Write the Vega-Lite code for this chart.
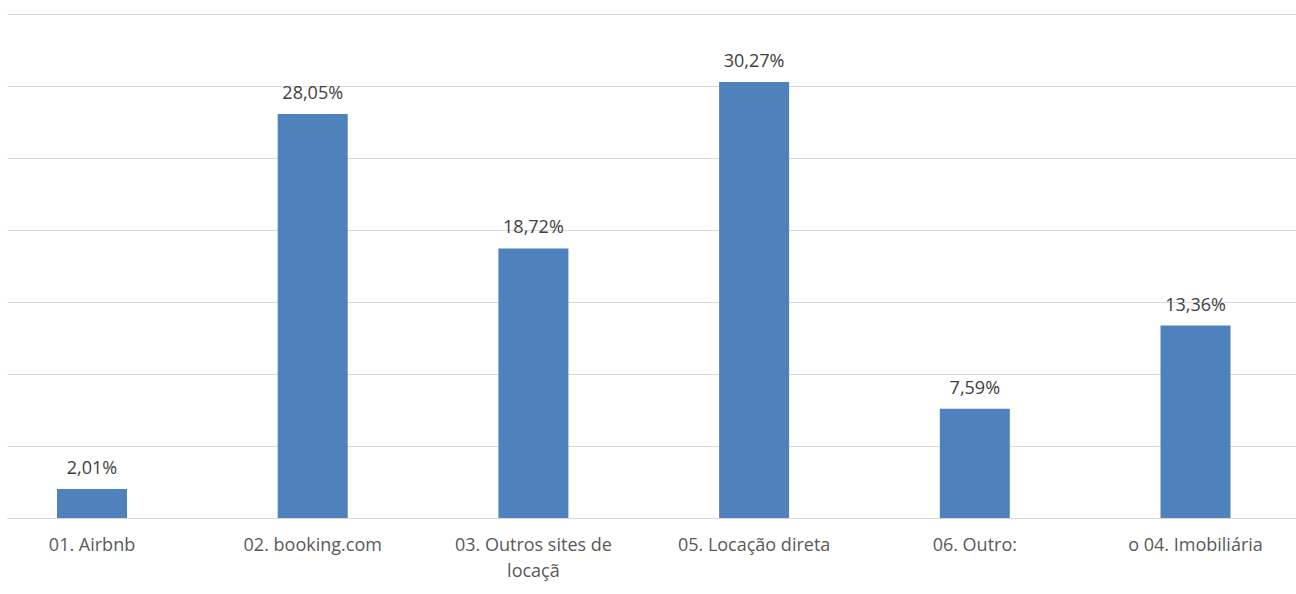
{
  "$schema": "https://vega.github.io/schema/vega-lite/v6.json",
  "width": 1289,
  "height": 504,
  "padding": {"left": 7, "top": 14, "right": 0, "bottom": 76},
  "autosize": {"type": "none"},
  "background": "white",
  "config": {
    "view": {"stroke": null},
    "font": "Open Sans",
    "locale": {"number": {"decimal": ",", "thousands": ".", "grouping": [3], "currency": ["", ""]}}
  },
  "data": {
    "values": [
      {"canal": "01. Airbnb", "pct": 0.0201},
      {"canal": "02. booking.com", "pct": 0.2805},
      {"canal": "03. Outros sites de locaçã", "pct": 0.1872},
      {"canal": "05. Locação direta", "pct": 0.3027},
      {"canal": "06. Outro:", "pct": 0.0759},
      {"canal": "o 04. Imobiliária", "pct": 0.1336}
    ]
  },
  "encoding": {
    "x": {
      "field": "canal",
      "type": "nominal",
      "sort": null,
      "scale": {"paddingInner": 0.6828, "paddingOuter": 0.2617, "align": 0.433},
      "axis": {
        "title": null,
        "labelAngle": 0,
        "ticks": false,
        "domainColor": "#d9d9d9",
        "domainWidth": 1,
        "labelFont": "Open Sans",
        "labelFontSize": 18,
        "labelColor": "#595959",
        "labelPadding": 18,
        "labelLimit": 0,
        "labelLineHeight": 26,
        "labelBaseline": "top",
        "labelExpr": "datum.label == '03. Outros sites de locaçã' ? ['03. Outros sites de', 'locaçã'] : datum.label"
      }
    },
    "y": {
      "field": "pct",
      "type": "quantitative",
      "scale": {"domain": [0, 0.35], "nice": false},
      "axis": {
        "title": null,
        "labels": false,
        "ticks": false,
        "domain": false,
        "grid": true,
        "gridColor": "#d9d9d9",
        "gridWidth": 1,
        "values": [0, 0.05, 0.1, 0.15, 0.2, 0.25, 0.3, 0.35]
      }
    }
  },
  "layer": [
    {"mark": {"type": "bar", "color": "#4F81BD"}},
    {
      "mark": {"type": "text", "baseline": "bottom", "dy": -11, "fontSize": 18, "font": "Open Sans", "color": "#404040"},
      "encoding": {"text": {"field": "pct", "type": "quantitative", "format": ".2%"}}
    }
  ]
}
